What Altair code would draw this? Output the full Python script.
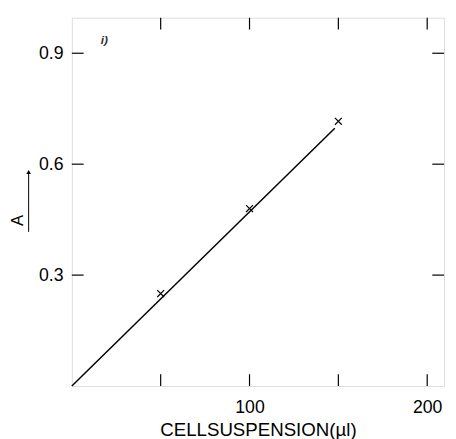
import altair as alt
import pandas as pd

# data
cell_ul = [50, 100, 150]
absorb = [0.25, 0.48, 0.716]
line_x = [0, 148]
line_y = [0, 0.697]
x_tick_vals = [50, 100, 150, 200]
x_label_vals = [100, 200]
y_tick_vals = [0.3, 0.6, 0.9]

W, H = 379, 375
FONT = "Liberation Sans"

pts = pd.DataFrame({"x": cell_ul, "y": absorb})
ln = pd.DataFrame({"x": line_x, "y": line_y})
xt = pd.DataFrame({"x": x_tick_vals})
yt = pd.DataFrame({"y": y_tick_vals})

xscale = alt.Scale(domain=[0, 209.5], nice=False, zero=False)
yscale = alt.Scale(domain=[0, 0.996], nice=False, zero=False)

xaxis = alt.Axis(values=x_label_vals, format="d", ticks=False, domain=False, grid=False,
                 labelFont=FONT, labelFontSize=18, labelColor="black", labelPadding=13,
                 title="CELLSUSPENSION(\u00b5l)", titleFont=FONT, titleFontSize=19,
                 titleFontWeight="normal", titleColor="black", titlePadding=4)
yaxis = alt.Axis(values=y_tick_vals, format=".1f", ticks=False, domain=False, grid=False,
                 labelFont=FONT, labelFontSize=18, labelColor="black", labelPadding=9,
                 title="A", titleFont=FONT, titleFontSize=17, titleFontWeight="normal",
                 titleColor="black", titleAngle=270, titleX=-55, titleY=206,
                 titleAlign="center", titleBaseline="middle")

line = alt.Chart(ln).mark_line(color="black", strokeWidth=1.5).encode(
    x=alt.X("x:Q", scale=xscale, axis=xaxis),
    y=alt.Y("y:Q", scale=yscale, axis=yaxis),
)

marks = alt.Chart(pts).mark_point(
    shape="M-1,-1L1,1M-1,1L1,-1", size=49, filled=False, color="black", strokeWidth=1.2, opacity=1
).encode(x=alt.X("x:Q", scale=xscale), y=alt.Y("y:Q", scale=yscale))

tk_bottom = alt.Chart(xt).mark_rule(color="black", strokeWidth=1.2).encode(
    x=alt.X("x:Q", scale=xscale), y=alt.value(H), y2=alt.value(H - 12))
tk_top = alt.Chart(xt).mark_rule(color="black", strokeWidth=1.2).encode(
    x=alt.X("x:Q", scale=xscale), y=alt.value(0), y2=alt.value(12))
tk_left = alt.Chart(yt).mark_rule(color="black", strokeWidth=1.2).encode(
    y=alt.Y("y:Q", scale=yscale), x=alt.value(0), x2=alt.value(12))
tk_right = alt.Chart(yt).mark_rule(color="black", strokeWidth=1.2).encode(
    y=alt.Y("y:Q", scale=yscale), x=alt.value(W), x2=alt.value(W - 12))

arrow_shaft = alt.Chart(pd.DataFrame({"a": [0]})).mark_rule(color="black", strokeWidth=1).encode(
    x=alt.value(-44), y=alt.value(218), y2=alt.value(156))
arrow_head = alt.Chart(pd.DataFrame({"a": [0]})).mark_point(
    shape="triangle-up", filled=True, color="black", size=22, opacity=1).encode(
    x=alt.value(-44), y=alt.value(157))

label = alt.Chart(pd.DataFrame({"t": ["i)"]})).mark_text(
    font=FONT, fontSize=12, fontStyle="italic", fontWeight="bold", color="#333").encode(
    text="t:N", x=alt.value(33), y=alt.value(23))

chart = alt.layer(line, marks, tk_bottom, tk_top, tk_left, tk_right,
                  arrow_shaft, arrow_head, label).properties(
    width=W, height=H,
    autosize=alt.AutoSizeParams(type="none"),
    padding={"left": 65, "top": 6, "right": 4, "bottom": 50},
).configure_view(stroke="black", strokeWidth=1.5).configure(background="white")

chart.save("out.html", embed_options={"renderer": "svg", "actions": False})
